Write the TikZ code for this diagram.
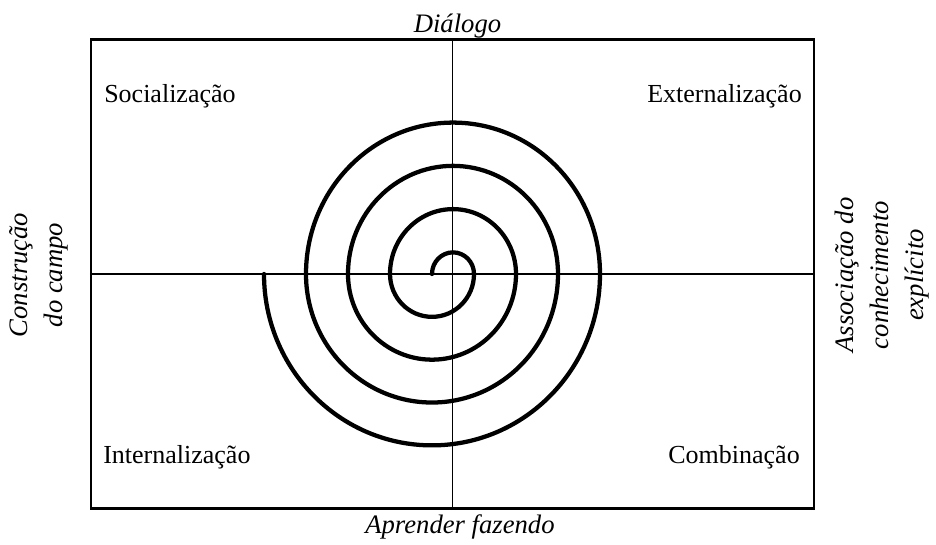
\documentclass[tikz,border=0pt]{standalone}
\usepackage{fontspec}
\setmainfont{Liberation Serif}
\usepackage{tikz}
\usetikzlibrary{calc, positioning}

\begin{document}
\begin{tikzpicture}[
  x=0.75pt, y=0.75pt,
  quad/.style={font=\fontsize{19.5}{23}\selectfont, inner sep=0pt},
  axis/.style={font=\fontsize{20}{26}\selectfont\itshape, inner sep=0pt, align=center},
  spiral/.style={line width=3.2pt, line cap=round}
]
  \useasboundingbox (0,0) rectangle (936,544);

  \node[draw, line width=1.8pt, inner sep=0pt, minimum width=542.25pt, minimum height=351.75pt] (box) at (452.5,270) {};
  \draw[line width=1.4pt] (box.north) -- (box.south);
  \draw[line width=1.4pt] (box.west) -- (box.east);

  \node[quad, anchor=base west] (soc) at (104,441) {Socialização};
  \node[quad, anchor=base east] (ext) at (802,441) {Externalização};
  \node[quad, anchor=base west] (int) at (103,81) {Internalização};
  \node[quad, anchor=base east] (comb) at (800,81) {Combinação};

  \node[axis, anchor=base] (dial) at (457.5,511) {Diálogo};
  \node[axis, anchor=base] (apr) at (460,11) {Aprender fazendo};
  \node[axis, rotate=90] (campo) at (39,269) {Construção\\do campo};
  \node[axis, rotate=90] (assoc) at (882,269) {Associação do\\conhecimento\\explícito};

  % spiral: upper halves round (453,270), lower halves round (432,270)
  \coordinate (s0) at (432,270);
  \draw[spiral] (s0)
    \foreach \r in {21,63,105,147} {
      arc[start angle=180, end angle=0, x radius=\r, y radius=1.03*\r]
      arc[start angle=0, end angle=-180, x radius=\r+21, y radius=1.02*(\r+21)]
    };
\end{tikzpicture}
\end{document}
